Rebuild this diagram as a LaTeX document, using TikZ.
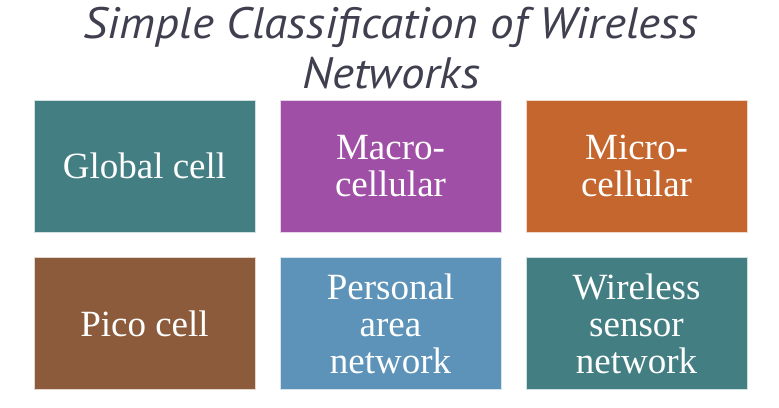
\documentclass[tikz,border=0pt]{standalone}
\usepackage{fontspec}
\setmainfont{Liberation Serif}
\newfontfamily\titlefont[FakeStretch=1.07]{PT Sans}
\definecolor{cteal}{HTML}{427E82}
\definecolor{cpurple}{HTML}{A04FA6}
\definecolor{corange}{HTML}{C4662E}
\definecolor{cbrown}{HTML}{8B5B3B}
\definecolor{cblue}{HTML}{5D93B8}
\definecolor{ctitle}{HTML}{3F3F4F}
\begin{document}
\begin{tikzpicture}[x=1pt,y=-1pt,
  cellbox/.style={draw=white!75!#1,line width=0.8pt,fill=#1,minimum width=221pt,minimum height=132pt,
    inner sep=0pt,text=white,align=center,font=\fontsize{37}{37}\selectfont},
  titletext/.style={text=ctitle,align=center,font=\titlefont\itshape\fontsize{44}{50}\selectfont}]
\useasboundingbox (0,0) rectangle (779,407);
\node[titletext] (title) at (391,48) {Simple Classification of Wireless\\Networks};
\node[cellbox=cteal] (global) at (144.5,166) {Global cell};
\node[cellbox=cpurple] (macro) at (390.5,166) {Macro-\\cellular};
\node[cellbox=corange] (micro) at (636.5,166) {Micro-\\cellular};
\node[cellbox=cbrown] (pico) at (144.5,323.5) {Pico cell};
\node[cellbox=cblue] (pan) at (390.5,323.5) {Personal\\area\\network};
\node[cellbox=cteal] (wsn) at (636.5,323.5) {Wireless\\sensor\\network};
\end{tikzpicture}
\end{document}
